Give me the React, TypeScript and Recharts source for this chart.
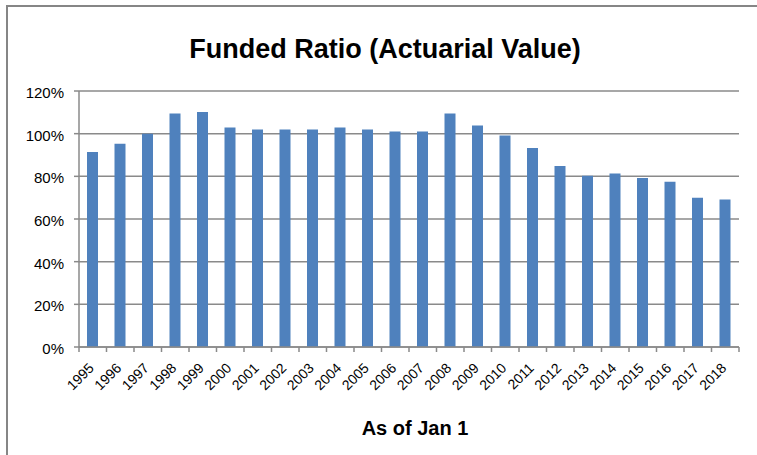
import React from "react";
import { BarChart, Bar, XAxis, YAxis, CartesianGrid } from "recharts";

const years = [
  "1995", "1996", "1997", "1998", "1999", "2000", "2001", "2002", "2003", "2004", "2005", "2006",
  "2007", "2008", "2009", "2010", "2011", "2012", "2013", "2014", "2015", "2016", "2017", "2018",
];
const fundedRatio = [
  91.4, 95.3, 100.0, 109.4, 110.2, 102.9, 101.9, 101.9, 101.9, 102.9, 101.9, 101.0,
  101.0, 109.4, 103.8, 99.1, 93.3, 84.9, 80.3, 81.3, 79.2, 77.5, 70.0, 69.1,
];
const yTicks = [0, 20, 40, 60, 80, 100, 120];
const title = "Funded Ratio (Actuarial Value)";
const xTitle = "As of Jan 1";

const data = years.map((y, i) => ({ year: y, value: fundedRatio[i] }));

const W = 757;
const H = 455;
const LEFT = 79;
const RIGHT = 18;
const TOP = 91;
const XAXIS_H = 108;
const PLOT_W = W - LEFT - RIGHT;
const BAND = PLOT_W / years.length;
const FONT = "'Liberation Sans', Arial, sans-serif";
const GRID = "#8a8a8a";

const XTick = (props: any) => {
  const { x, y, payload, index } = props;
  const ax = x + 2;
  const ay = y + 22;
  return (
    <g>
      <line x1={x - BAND / 2} y1={y} x2={x - BAND / 2} y2={y + 5} stroke={GRID} strokeWidth={1.5} />
      {index === years.length - 1 && (
        <line x1={x + BAND / 2} y1={y} x2={x + BAND / 2} y2={y + 5} stroke={GRID} strokeWidth={1.5} />
      )}
      <text
        x={ax}
        y={ay}
        textAnchor="end"
        transform={`rotate(-45 ${ax} ${ay})`}
        fontFamily={FONT}
        fontSize={14}
        fill="#000"
      >
        {payload.value}
      </text>
    </g>
  );
};

const YTick = (props: any) => {
  const { x, y, payload } = props;
  return (
    <text x={x} y={y + 7} textAnchor="end" fontFamily={FONT} fontSize={15} fill="#000">
      {payload.value + "%"}
    </text>
  );
};

export default function App() {
  return (
    <div style={{ position: "absolute", left: 0, top: 0, width: W, height: H, background: "#fff", overflow: "hidden" }}>
      <div
        style={{
          position: "absolute",
          left: 6,
          top: 5,
          width: W,
          height: H,
          borderLeft: "2px solid #868686",
          borderTop: "2px solid #868686",
        }}
      />
      <div style={{ position: "absolute", left: 0, top: 0 }}>
        <BarChart width={W} height={H} data={data} margin={{ top: TOP, right: RIGHT, bottom: 0, left: 0 }}>
          <CartesianGrid horizontal={true} vertical={false} stroke={GRID} strokeWidth={1.5} />
          <XAxis
            dataKey="year"
            height={XAXIS_H}
            interval={0}
            tickSize={0}
            tickMargin={0}
            tickLine={false}
            axisLine={{ stroke: GRID, strokeWidth: 1.5 }}
            tick={<XTick />}
          />
          <YAxis
            width={LEFT}
            domain={[0, 120]}
            ticks={yTicks}
            interval={0}
            tickSize={5}
            tickMargin={10}
            tickLine={{ stroke: GRID, strokeWidth: 1.5 }}
            axisLine={{ stroke: GRID, strokeWidth: 1.5 }}
            tick={<YTick />}
          />
          <Bar dataKey="value" fill="#4F81BD" barSize={11} isAnimationActive={false} />
        </BarChart>
      </div>
      <svg width={W} height={H} style={{ position: "absolute", left: 0, top: 0, pointerEvents: "none" }}>
        <text x={385} y={58} textAnchor="middle" fontFamily={FONT} fontWeight="bold" fontSize={27} fill="#000">
          {title}
        </text>
        <text x={415} y={435} textAnchor="middle" fontFamily={FONT} fontWeight="bold" fontSize={20} fill="#000">
          {xTitle}
        </text>
      </svg>
    </div>
  );
}
